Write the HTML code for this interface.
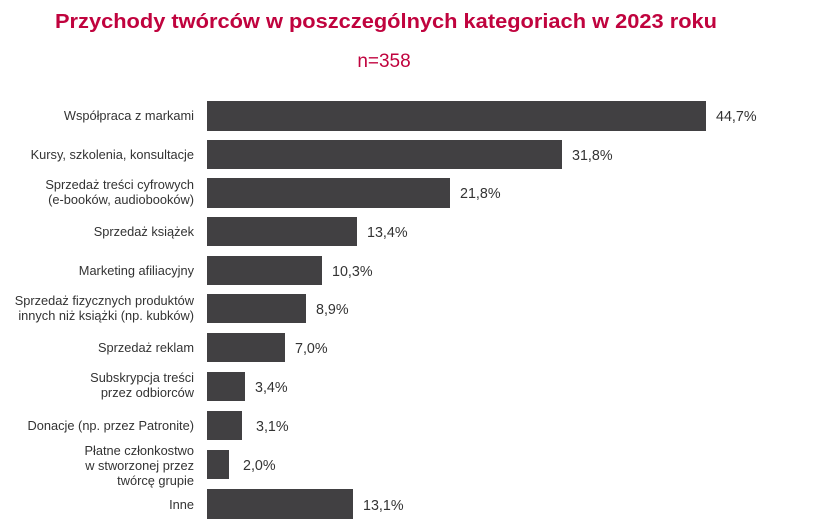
<!DOCTYPE html>
<html><head><meta charset="utf-8"><style>
body{margin:0;background:#fff;}
svg{display:block;font-family:"Liberation Sans",sans-serif;}
</style></head><body>
<svg width="835" height="525" viewBox="0 0 835 525">
<text x="386" y="28" text-anchor="middle" font-size="20" font-weight="bold" fill="#c0033e" textLength="662" lengthAdjust="spacingAndGlyphs">Przychody twórców w poszczególnych kategoriach w 2023 roku</text>
<text x="384" y="67" text-anchor="middle" font-size="19" fill="#c0033e">n=358</text>
<g fill="#414042">
<rect x="207" y="101" width="499" height="30"/>
<rect x="207" y="140" width="355" height="29"/>
<rect x="207" y="178" width="243" height="30"/>
<rect x="207" y="217" width="150" height="29"/>
<rect x="207" y="256" width="115" height="29"/>
<rect x="207" y="294" width="99" height="29"/>
<rect x="207" y="333" width="78" height="29"/>
<rect x="207" y="372" width="38" height="29"/>
<rect x="207" y="411" width="35" height="29"/>
<rect x="207" y="450" width="22" height="29"/>
<rect x="207" y="489" width="146" height="30"/>
</g>
<g font-size="14.3" fill="#333">
<text x="716" y="121">44,7%</text>
<text x="572" y="160">31,8%</text>
<text x="460" y="198">21,8%</text>
<text x="367" y="237">13,4%</text>
<text x="332" y="276">10,3%</text>
<text x="316" y="314">8,9%</text>
<text x="295" y="353">7,0%</text>
<text x="255" y="392">3,4%</text>
<text x="256" y="431">3,1%</text>
<text x="243" y="470">2,0%</text>
<text x="363" y="510">13,1%</text>
</g>
<g font-size="12.8" fill="#333" text-anchor="end">
<text x="194" y="120">Współpraca z markami</text>
<text x="194" y="159">Kursy, szkolenia, konsultacje</text>
<text x="194" y="189">Sprzedaż treści cyfrowych</text>
<text x="194" y="204">(e-booków, audiobooków)</text>
<text x="194" y="236">Sprzedaż książek</text>
<text x="194" y="275">Marketing afiliacyjny</text>
<text x="194" y="305">Sprzedaż fizycznych produktów</text>
<text x="194" y="320">innych niż książki (np. kubków)</text>
<text x="194" y="352">Sprzedaż reklam</text>
<text x="194" y="382">Subskrypcja treści</text>
<text x="194" y="397">przez odbiorców</text>
<text x="194" y="430">Donacje (np. przez Patronite)</text>
<text x="194" y="455">Płatne członkostwo</text>
<text x="194" y="470">w stworzonej przez</text>
<text x="194" y="485">twórcę grupie</text>
<text x="194" y="509">Inne</text>
</g>
</svg>
</body></html>
